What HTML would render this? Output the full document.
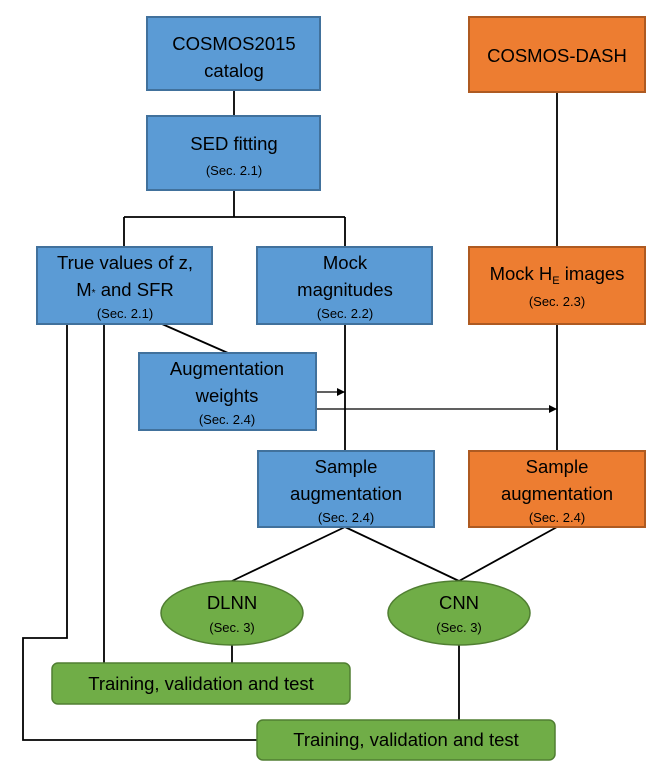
<!DOCTYPE html>
<html><head><meta charset="utf-8"><style>body{margin:0;background:#fff}svg{display:block}text{font-family:"Liberation Sans",sans-serif;text-anchor:middle;fill:#000}.m{font-size:18.5px}.s{font-size:13px}</style></head><body>
<svg width="669" height="775" viewBox="0 0 669 775">
<defs><marker id="a" markerWidth="8" markerHeight="8" refX="8" refY="4" orient="auto" markerUnits="userSpaceOnUse"><path d="M0,0 L8,4 L0,8 z" fill="#000"/></marker></defs>
<g stroke="#000" stroke-width="1.8" fill="none">
<path d="M234 90V116M234 190V217M124 217H345M124 217V247M345 217V247"/>
<path d="M557 92V451M345 324V451"/>
<path d="M162 324L228 353"/>
<path d="M345 527L232 581M345 527L459 581M557 527L459 581"/>
<path d="M104 324V663M67 324V638H23V740H257"/>
<path d="M232 645V663M459 645V720"/>
</g>
<g stroke="#000" stroke-width="1.3">
<line x1="316" y1="392" x2="345" y2="392" marker-end="url(#a)"/>
<line x1="316" y1="409" x2="557" y2="409" marker-end="url(#a)"/>
</g>
<g fill="#5B9BD5" stroke="#41719C" stroke-width="2">
<rect x="147" y="17" width="173" height="73"/>
<rect x="147" y="116" width="173" height="74"/>
<rect x="37" y="247" width="175" height="77"/>
<rect x="257" y="247" width="175" height="77"/>
<rect x="139" y="353" width="177" height="77"/>
<rect x="258" y="451" width="176" height="76"/>
</g>
<g fill="#ED7D31" stroke="#AE5A21" stroke-width="2">
<rect x="469" y="17" width="176" height="75"/>
<rect x="469" y="247" width="176" height="77"/>
<rect x="469" y="451" width="176" height="76"/>
</g>
<g fill="#70AD47" stroke="#507E32" stroke-width="1.5">
<ellipse cx="232" cy="613" rx="71" ry="32"/>
<ellipse cx="459" cy="613" rx="71" ry="32"/>
<rect x="52" y="663" width="298" height="41" rx="6"/>
<rect x="257" y="720" width="298" height="40" rx="6"/>
</g>
<text class="m" x="234" y="50">COSMOS2015</text><text class="m" x="234" y="77">catalog</text>
<text class="m" x="234" y="150">SED fitting</text><text class="s" x="234" y="175">(Sec. 2.1)</text>
<text class="m" x="557" y="62">COSMOS-DASH</text>
<text class="m" x="125" y="269">True values of z,</text><text class="m" x="125" y="296">M<tspan font-size="10">*</tspan> and SFR</text><text class="s" x="125" y="318">(Sec. 2.1)</text>
<text class="m" x="345" y="269">Mock</text><text class="m" x="345" y="296">magnitudes</text><text class="s" x="345" y="318">(Sec. 2.2)</text>
<text class="m" x="557" y="280">Mock H<tspan font-size="11" dy="4">E</tspan><tspan dy="-4"> images</tspan></text><text class="s" x="557" y="306">(Sec. 2.3)</text>
<text class="m" x="227" y="375">Augmentation</text><text class="m" x="227" y="402">weights</text><text class="s" x="227" y="424">(Sec. 2.4)</text>
<text class="m" x="346" y="473">Sample</text><text class="m" x="346" y="500">augmentation</text><text class="s" x="346" y="522">(Sec. 2.4)</text>
<text class="m" x="557" y="473">Sample</text><text class="m" x="557" y="500">augmentation</text><text class="s" x="557" y="522">(Sec. 2.4)</text>
<text class="m" x="232" y="609">DLNN</text><text class="s" x="232" y="632">(Sec. 3)</text>
<text class="m" x="459" y="609">CNN</text><text class="s" x="459" y="632">(Sec. 3)</text>
<text class="m" x="201" y="690">Training, validation and test</text>
<text class="m" x="406" y="746">Training, validation and test</text>
</svg>
</body></html>
